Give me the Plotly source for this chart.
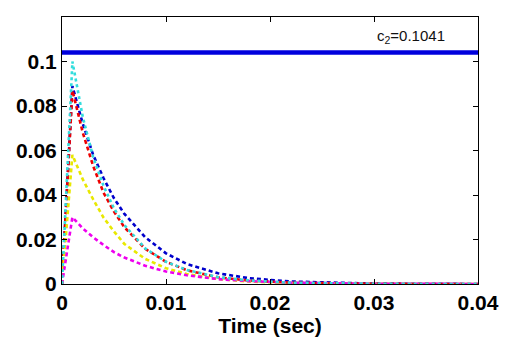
import plotly.graph_objects as go

t = [0, 0.001, 0.002, 0.003, 0.004, 0.005, 0.006, 0.008, 0.010, 0.012, 0.015, 0.018, 0.022, 0.026, 0.030, 0.035, 0.040]
blue = [0, 0.089, 0.072, 0.058, 0.0475, 0.0385, 0.0315, 0.021, 0.0138, 0.009, 0.0048, 0.0026, 0.0011, 0.0005, 0.0002, 0.0001, 0]
red = [0, 0.087, 0.068, 0.053, 0.041, 0.0325, 0.0255, 0.0158, 0.010, 0.0062, 0.003, 0.0015, 0.0006, 0.0002, 0.0001, 0, 0]
cyan = [0, 0.100, 0.075, 0.057, 0.044, 0.034, 0.0265, 0.016, 0.010, 0.0063, 0.0031, 0.0016, 0.0006, 0.0002, 0.0001, 0, 0]
yellow = [0, 0.058, 0.047, 0.038, 0.0298, 0.0236, 0.018, 0.0113, 0.0071, 0.0045, 0.0022, 0.0011, 0.0004, 0.0002, 0.0001, 0, 0]
magenta = [0, 0.030, 0.025, 0.021, 0.0175, 0.0143, 0.0119, 0.0082, 0.0056, 0.0039, 0.0022, 0.0013, 0.0006, 0.0003, 0.0001, 0.0001, 0]
c2 = 0.1041
c2_label = "c<sub>2</sub>=0.1041"
x_ticks = [0, 0.01, 0.02, 0.03, 0.04]
x_ticklabels = ["0", "0.01", "0.02", "0.03", "0.04"]
y_ticks = [0, 0.02, 0.04, 0.06, 0.08, 0.1]
y_ticklabels = ["0", "0.02", "0.04", "0.06", "0.08", "0.1"]

fig = go.Figure()
fig.add_trace(go.Scatter(x=[0, 0.04], y=[c2, c2], mode="lines",
                         line=dict(color="#0000dd", width=4.5)))
series = [
    (blue, "#0000cc", "4px,3px"),
    (red, "#ee0000", "4px,3px"),
    (yellow, "#e8e800", "4px,3px"),
    (magenta, "#ee00ee", "4px,3px"),
    (cyan, "#33dddd", "3px,3px"),
]
for ys, col, dash in series:
    fig.add_trace(go.Scatter(x=t, y=ys, mode="lines",
                             line=dict(color=col, width=2.6, dash=dash)))

fig.add_annotation(x=0.0336, y=0.1041, yshift=16, text=c2_label, showarrow=False,
                   font=dict(family="Liberation Sans, Arial", size=15, color="#111111"))

axis_common = dict(showline=True, linecolor="black", linewidth=1, mirror="ticks",
                   ticks="inside", ticklen=5, tickcolor="black", showgrid=False,
                   zeroline=False, automargin=False,
                   tickfont=dict(family="Liberation Sans, Arial", size=21, color="black",
                                 weight="bold"))
fig.update_xaxes(range=[0, 0.04], tickvals=x_ticks, ticktext=x_ticklabels,
                 title=dict(text="<b>Time (sec)</b>", standoff=0,
                            font=dict(family="Liberation Sans, Arial", size=21, color="black")),
                 **axis_common)
fig.update_yaxes(range=[0, 0.12], tickvals=y_ticks, ticktext=y_ticklabels, **axis_common)

fig.update_layout(width=509, height=338, showlegend=False,
                  margin=dict(l=62, r=31, t=17, b=54),
                  plot_bgcolor="white", paper_bgcolor="white")
fig.write_html("out.html", config={"displayModeBar": False},
               post_script="document.body.style.margin='0';document.body.style.overflow='hidden';")
